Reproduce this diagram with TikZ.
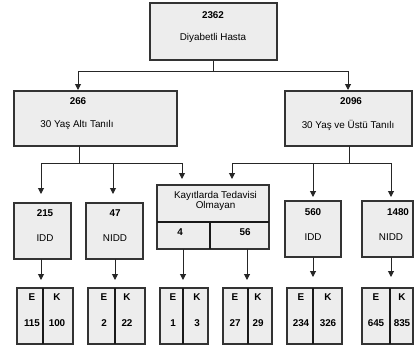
\documentclass[tikz,border=0pt]{standalone}
\usepackage{fontspec}
\setmainfont{Liberation Sans}
\usetikzlibrary{arrows.meta}
\begin{document}
\begin{tikzpicture}[x=0.75pt,y=-0.75pt,
 box/.style={draw=black!80,fill=black!7,line width=1pt,rectangle,inner sep=0pt},
 lbl/.style={font=\fontsize{7.4}{7.6}\selectfont,inner sep=0pt,align=center},
 num/.style={font=\fontsize{7.4}{8}\selectfont\bfseries,inner sep=0pt},
 conn/.style={draw=black!85,line width=0.75pt},
 arr/.style={conn,-{Triangle[length=4.5pt,width=4.5pt]}},
 divline/.style={draw=black!90,line width=1.5pt}
]
\useasboundingbox (0,0) rectangle (414,350);
% boxes
\node[box,minimum width={127*0.75pt},minimum height={57*0.75pt}] (top) at (213.5,31.5) {};
\node[box,minimum width={163*0.75pt},minimum height={55*0.75pt}] (L) at (95.5,118.5) {};
\node[box,minimum width={127*0.75pt},minimum height={55*0.75pt}] (R) at (348.5,118.5) {};
\node[box,minimum width={57*0.75pt},minimum height={56*0.75pt}] (LI) at (42.5,231) {};
\node[box,minimum width={57*0.75pt},minimum height={56*0.75pt}] (LN) at (114.5,231) {};
\node[box,minimum width={112*0.75pt},minimum height={64*0.75pt}] (M) at (213,217) {};
\node[box,minimum width={56*0.75pt},minimum height={56*0.75pt}] (RI) at (313,229) {};
\node[box,minimum width={51*0.75pt},minimum height={56*0.75pt}] (RN) at (387.5,229) {};
\draw[divline,line width=1.2pt] (157,222) -- (269,222);
\draw[divline,line width=1.2pt] (210,222) -- (210,249);
% bottom boxes
\node[box,minimum width={56*0.75pt},minimum height={56*0.75pt}] (B1) at (45,316) {};
\node[box,minimum width={57*0.75pt},minimum height={56*0.75pt}] (B2) at (116.5,316) {};
\node[box,minimum width={48*0.75pt},minimum height={56*0.75pt}] (B3) at (184,316) {};
\node[box,minimum width={49*0.75pt},minimum height={56*0.75pt}] (B4) at (247.5,316) {};
\node[box,minimum width={55*0.75pt},minimum height={56*0.75pt}] (B5) at (314.5,316) {};
\node[box,minimum width={51*0.75pt},minimum height={56*0.75pt}] (B6) at (387.5,316) {};
\foreach \d in {43,115,183,248,313,390} \draw[divline] (\d,288) -- (\d,344);
% texts
\node[num] (t1) at (213,15) {2362};
\node[lbl] (t2) at (213,38) {Diyabetli Hasta};
\node[num] (t3) at (78,101) {266};
\node[lbl] (t4) at (77,125) {30 Yaş Altı Tanılı};
\node[num] (t5) at (351,101) {2096};
\node[lbl] (t6) at (348,125) {30 Yaş ve Üstü Tanılı};
\node[num] (t7) at (45,213) {215};
\node[lbl] (t8) at (45,238) {IDD};
\node[num] (t9) at (115,213) {47};
\node[lbl] (t10) at (115,238) {NIDD};
\node[lbl] (t11) at (215.5,201) {Kayıtlarda Tedavisi\\Olmayan};
\node[num] (t12) at (180,232) {4};
\node[num] (t13) at (245,232) {56};
\node[num] (t14) at (313,212) {560};
\node[lbl] (t15) at (313,237) {IDD};
\node[num] (t16) at (398,212) {1480};
\node[lbl] (t17) at (391,237) {NIDD};
\foreach \ex/\kx/\ev/\kv [count=\i] in {32/57/115/100, 104/127/2/22, 173/197/1/3, 235/258/27/29, 301/328/234/326, 376/402/645/835}{
  \node[num] (e\i) at (\ex,297) {E};
  \node[num] (k\i) at (\kx,297) {K};
  \node[num] (ev\i) at (\ex,323) {\ev};
  \node[num] (kv\i) at (\kx,323) {\kv};
}
% connectors
\coordinate (jL) at (78,71);
\coordinate (jR) at (348,71);
\draw[conn] (top.south) |- (jL);
\draw[conn] (top.south) |- (jR);
\draw[arr] (jL) -- (78,90);
\draw[arr] (jR) -- (348,90);
\coordinate (Ls) at (79,146);
\coordinate (hL) at (79,163);
\coordinate (Rs) at (349,146);
\coordinate (hR) at (349,163);
\draw[conn] (Ls) -- (hL);
\draw[conn] (41,163) -- (182,163);
\draw[arr] (41,163) -- (41,194);
\draw[arr] (113,163) -- (113,194);
\draw[arr] (182,163) -- (182,179);
\draw[conn] (Rs) -- (hR);
\draw[conn] (232,163) -- (391,163);
\draw[arr] (232,163) -- (232,179);
\draw[arr] (313,163) -- (313,197);
\draw[arr] (391,163) -- (391,197);
\draw[arr] (41,259) -- (41,280);
\draw[arr] (115,259) -- (115,280);
\draw[arr] (183,249) -- (183,280);
\draw[arr] (247,249) -- (247,280);
\draw[arr] (313,257) -- (313,277);
\draw[arr] (391,257) -- (391,277);
\end{tikzpicture}
\end{document}
